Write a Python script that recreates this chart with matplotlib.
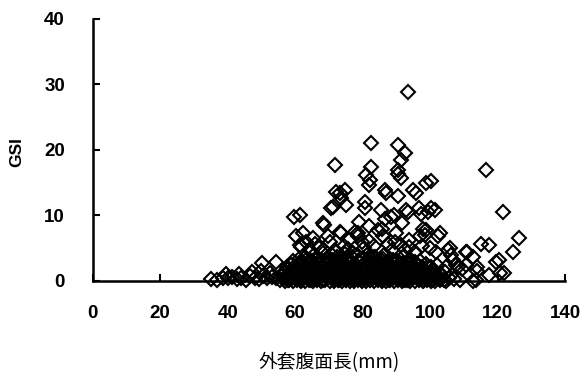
import matplotlib
matplotlib.use("Agg")
import matplotlib.pyplot as plt
import numpy as np

# mantle ventral length (mm) vs GSI, grouped by region of the cloud
tail_len = [35.2, 36.8, 38.5, 39.6, 40.1, 41.4, 42.7, 43.3, 44.0, 45.3, 46.6,
            47.1, 48.0, 49.2, 49.9, 50.5, 51.8, 52.6, 53.1, 54.3, 50.1, 54.4]
tail_gsi = [0.3, 0.2, 0.5, 1.0, 0.4, 0.6, 0.3, 1.1, 0.5, 0.2, 0.7,
            1.3, 0.4, 0.3, 1.5, 0.8, 0.5, 1.2, 0.6, 0.4, 2.7, 2.9]

# dense band of immature animals, in rough horizontal rows
row_a_len = [55.6, 56.8, 57.9, 59.1, 60.2, 61.4, 62.5, 63.7, 64.8, 66.0,
             67.1, 68.3, 69.4, 70.6, 71.7, 72.9, 74.0, 75.2, 76.3, 77.5,
             78.6, 79.8, 80.9, 82.1, 83.2, 84.4, 85.5, 86.7, 87.8, 89.0,
             90.1, 91.3, 92.4, 93.6, 94.7, 95.9, 97.0, 98.2, 99.3, 100.5,
             101.6, 102.8, 104.1, 105.5, 107.2, 109.0]
row_a_gsi = [0.2, 0.4, 0.1, 0.5, 0.3, 0.2, 0.6, 0.4, 0.1, 0.3,
             0.5, 0.2, 0.4, 0.6, 0.3, 0.1, 0.5, 0.2, 0.4, 0.3,
             0.6, 0.1, 0.4, 0.2, 0.5, 0.3, 0.1, 0.6, 0.2, 0.4,
             0.3, 0.5, 0.1, 0.2, 0.4, 0.6, 0.3, 0.2, 0.5, 0.1,
             0.4, 0.3, 0.2, 0.5, 0.3, 0.2]

row_b_len = [56.2, 57.3, 58.5, 59.6, 60.8, 61.9, 63.1, 64.2, 65.4, 66.5,
             67.7, 68.8, 70.0, 71.1, 72.3, 73.4, 74.6, 75.7, 76.9, 78.0,
             79.2, 80.3, 81.5, 82.6, 83.8, 84.9, 86.1, 87.2, 88.4, 89.5,
             90.7, 91.8, 93.0, 94.1, 95.3, 96.4, 97.6, 98.7, 100.0, 101.3,
             102.9, 104.5]
row_b_gsi = [1.1, 1.4, 0.9, 1.6, 1.2, 1.0, 1.5, 1.3, 1.7, 1.1,
             1.4, 1.2, 1.6, 0.9, 1.3, 1.5, 1.1, 1.7, 1.2, 1.4,
             1.0, 1.6, 1.3, 1.1, 1.5, 1.2, 1.7, 1.0, 1.4, 1.3,
             1.6, 1.1, 1.2, 1.5, 1.0, 1.4, 1.3, 1.1, 1.2, 1.5,
             1.0, 1.3]

row_c_len = [57.5, 58.8, 60.1, 61.5, 62.8, 64.1, 65.5, 66.8, 68.1, 69.5,
             70.8, 72.1, 73.5, 74.8, 76.1, 77.5, 78.8, 80.1, 81.5, 82.8,
             84.1, 85.5, 86.8, 88.1, 89.5, 90.8, 92.1, 93.5, 94.8, 96.1,
             97.5, 98.8, 100.4, 102.2, 105.0, 108.3]
row_c_gsi = [2.1, 2.5, 2.3, 2.8, 2.0, 2.6, 2.4, 2.9, 2.2, 2.7,
             2.5, 2.1, 2.8, 2.3, 2.6, 2.0, 2.9, 2.4, 2.2, 2.7,
             2.5, 2.3, 2.8, 2.1, 2.6, 2.4, 2.0, 2.7, 2.3, 2.5,
             2.2, 2.6, 2.1, 2.4, 2.3, 2.2]

row_d_len = [59.3, 61.2, 63.0, 64.3, 65.6, 66.9, 68.2, 69.5, 70.8, 72.1,
             73.4, 74.7, 76.0, 77.3, 78.6, 79.9, 81.2, 82.5, 83.8, 85.1,
             86.4, 88.0, 89.9, 92.0, 94.3, 97.1]
row_d_gsi = [3.1, 3.4, 3.6, 3.2, 4.0, 3.5, 4.3, 3.3, 3.9, 4.4,
             3.6, 4.1, 3.4, 4.2, 3.8, 3.2, 4.0, 3.5, 3.7, 3.3,
             3.9, 3.4, 3.1, 3.6, 3.2, 3.0]

row_e_len = [57.0, 58.2, 59.4, 60.6, 61.8, 63.0, 64.2, 65.4, 66.6, 67.8,
             69.0, 70.2, 71.4, 72.6, 73.8, 75.0, 76.2, 77.4, 78.6, 79.8,
             81.0, 82.2, 83.4, 84.6, 85.8, 87.0, 88.2, 89.4, 90.6, 91.8,
             93.0, 94.2, 95.4, 96.6, 97.8, 99.0, 100.2, 101.6, 103.0, 104.6]
row_e_gsi = [0.0, 0.1, 0.0, 0.1, 0.0, 0.0, 0.1, 0.0, 0.1, 0.0,
             0.1, 0.0, 0.0, 0.1, 0.0, 0.1, 0.0, 0.0, 0.1, 0.0,
             0.0, 0.1, 0.0, 0.1, 0.0, 0.0, 0.1, 0.0, 0.1, 0.0,
             0.1, 0.0, 0.0, 0.1, 0.0, 0.1, 0.0, 0.0, 0.1, 0.0]

row_f_len = [57.6, 58.8, 60.0, 61.2, 62.4, 63.6, 64.8, 66.0, 67.2, 68.4,
             69.6, 70.8, 72.0, 73.2, 74.4, 75.6, 76.8, 78.0, 79.2, 80.4,
             81.6, 82.8, 84.0, 85.2, 86.4, 87.6, 88.8, 90.0, 91.2, 92.4,
             93.6, 94.8, 96.0, 97.2, 98.4, 99.6, 101.0, 102.4]
row_f_gsi = [0.8, 0.7, 0.9, 0.8, 0.7, 0.9, 0.8, 0.7, 0.8, 0.9,
             0.7, 0.8, 0.9, 0.7, 0.8, 0.8, 0.9, 0.7, 0.8, 0.9,
             0.7, 0.8, 0.9, 0.8, 0.7, 0.9, 0.8, 0.7, 0.8, 0.9,
             0.7, 0.8, 0.9, 0.8, 0.7, 0.8, 0.9, 0.7]

row_g_len = [58.0, 59.3, 60.6, 61.9, 63.2, 64.5, 65.8, 67.1, 68.4, 69.7,
             71.0, 72.3, 73.6, 74.9, 76.2, 77.5, 78.8, 80.1, 81.4, 82.7,
             84.0, 85.3, 86.6, 87.9, 89.2, 90.5, 91.8, 93.1, 94.4, 95.7,
             97.0, 98.3, 99.8]
row_g_gsi = [1.9, 2.0, 1.8, 1.9, 2.0, 1.8, 1.9, 1.8, 2.0, 1.9,
             1.8, 2.0, 1.9, 1.8, 2.0, 1.9, 1.8, 1.9, 2.0, 1.8,
             1.9, 2.0, 1.8, 1.9, 1.8, 2.0, 1.9, 1.8, 2.0, 1.9,
             1.8, 1.9, 2.0]

row_h_len = [62.0, 63.5, 65.0, 66.5, 68.0, 69.5, 71.0, 72.5, 74.0, 75.5,
             77.0, 78.5, 80.0, 81.5, 83.0, 84.5, 86.0, 87.5, 89.0, 90.5,
             92.0, 93.5, 95.5]
row_h_gsi = [2.9, 3.3, 3.0, 3.4, 3.1, 3.5, 3.2, 3.6, 3.0, 3.4,
             3.7, 3.1, 3.5, 3.2, 3.6, 3.0, 3.3, 2.9, 3.2, 3.0,
             2.8, 3.1, 2.9]

mid_len = [60.4, 61.3, 62.3, 63.3, 61.8, 65.3, 67.3, 68.2, 68.6, 69.7,
           71.7, 73.2, 76.1, 77.6, 78.6, 79.7, 84.5, 86.0, 85.7, 90.0,
           89.5, 93.9, 96.9, 98.9, 102.8, 93.9, 95.4, 99.9, 101.8, 105.3,
           106.8, 107.8, 64.5, 66.0, 70.2, 74.5, 75.8, 80.5, 82.0, 83.5,
           87.5, 88.8, 91.5, 92.5, 97.5, 105.8, 106.3, 110.7, 112.7, 111.0,
           113.9, 115.2, 117.6, 119.6, 120.6, 122.0, 120.5, 117.6, 113.5, 112.7,
           109.5, 110.8, 114.0, 124.6, 126.5, 97.9, 102.3, 78.7, 73.7, 98.4,
           86.5, 88.5, 79.0, 82.0, 91.8]
mid_gsi = [6.8, 5.5, 7.3, 6.0, 5.2, 6.5, 5.2, 8.8, 8.5, 6.8,
           4.7, 7.5, 6.3, 7.5, 6.8, 5.9, 7.8, 6.8, 8.0, 7.3,
           6.0, 6.3, 6.8, 7.8, 7.3, 5.2, 4.5, 5.0, 4.5, 4.7,
           3.2, 2.4, 4.8, 5.6, 5.9, 5.4, 4.9, 5.0, 6.1, 5.3,
           5.6, 4.8, 5.5, 4.7, 5.4, 5.0, 4.0, 4.5, 3.7, 4.5,
           2.2, 5.7, 5.5, 2.9, 1.2, 1.2, 3.2, 0.9, 0.1, 0.0,
           1.8, 2.4, 1.6, 4.5, 6.5, 8.0, 6.8, 7.3, 7.3, 7.0,
           9.4, 9.8, 9.0, 8.4, 8.9]

high_len = [59.6, 61.4, 70.7, 73.7, 74.7, 72.2, 75.2, 73.2, 71.2, 80.6,
            80.6, 81.1, 82.1, 81.9, 86.5, 87.0, 90.5, 91.5, 85.5, 89.4,
            92.9, 93.6, 94.9, 95.9, 96.6, 98.9, 97.4, 100.4, 100.4, 99.4,
            101.6, 90.5, 71.9, 82.5, 90.5, 92.7, 91.4, 90.4, 82.4, 93.4,
            116.6, 121.6]
high_gsi = [9.7, 10.1, 11.1, 12.6, 13.9, 13.6, 11.6, 13.4, 11.3, 12.1,
            11.1, 16.2, 15.4, 14.7, 13.9, 13.4, 16.4, 15.7, 10.8, 10.1,
            10.8, 10.6, 13.9, 13.4, 11.1, 14.9, 10.3, 15.2, 11.1, 10.6,
            10.8, 12.9, 17.7, 21.0, 20.8, 19.5, 18.5, 16.9, 17.4, 28.9,
            17.0, 10.6]

x_ticks = [0, 20, 40, 60, 80, 100, 120, 140]
y_ticks = [0, 10, 20, 30, 40]

length = np.concatenate([tail_len, row_a_len, row_b_len, row_c_len, row_d_len,
                         row_e_len, row_f_len, row_g_len, row_h_len,
                         mid_len, high_len])
gsi = np.concatenate([tail_gsi, row_a_gsi, row_b_gsi, row_c_gsi, row_d_gsi,
                      row_e_gsi, row_f_gsi, row_g_gsi, row_h_gsi,
                      mid_gsi, high_gsi])

num_font = ['Liberation Sans', 'DejaVu Sans']
jp_font = ['Noto Sans CJK JP', 'DejaVu Sans']

fig = plt.figure(figsize=(5.87, 3.76), dpi=100)
ax = fig.add_axes([0.158, 0.2527, 0.8045, 0.6968])

ax.plot(length, gsi, linestyle='none', marker='D', markersize=7.5,
        markerfacecolor='none', markeredgecolor='black',
        markeredgewidth=1.5, clip_on=False, zorder=3)

ax.set_xlim(0, 140)
ax.set_ylim(0, 40)
ax.set_xticks(x_ticks)
ax.set_yticks(y_ticks)
ax.set_xticklabels([str(v) for v in x_ticks], family=num_font,
                   fontsize=13.5, fontweight='bold')
ax.set_yticklabels([str(v) for v in y_ticks], family=num_font,
                   fontsize=13.5, fontweight='bold')
ax.tick_params(direction='in', length=5, width=1.5, color='black')
ax.tick_params(axis='x', pad=17)
ax.tick_params(axis='y', pad=20)

for side in ('top', 'right'):
    ax.spines[side].set_visible(False)
for side in ('left', 'bottom'):
    ax.spines[side].set_linewidth(1.8)

ax.set_xlabel('外套腹面長(mm)', family=jp_font, fontsize=13.5)
ax.xaxis.set_label_coords(0.5, -0.27)
fig.text(17 / 587, 1 - 152 / 376, 'GSI', rotation=90, ha='center',
         va='center', family=num_font, fontsize=12.5, fontweight='bold')

fig.savefig('out.png', dpi=100)
